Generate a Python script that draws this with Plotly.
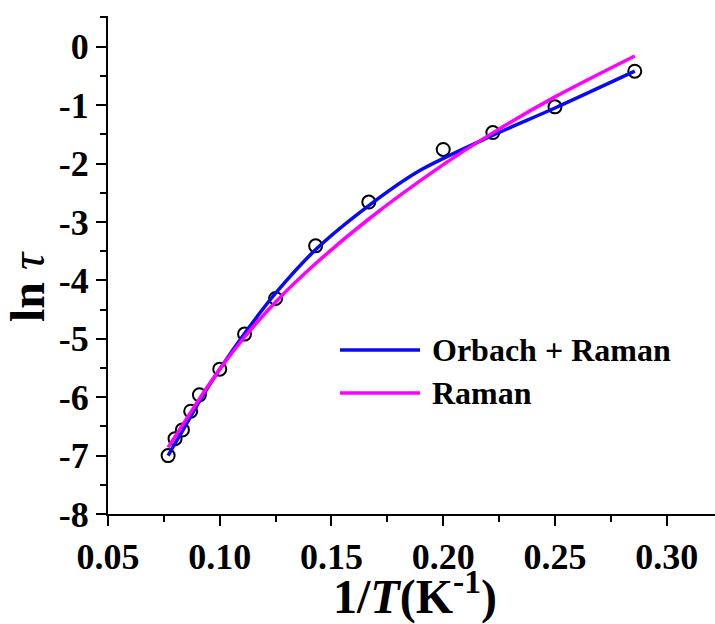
import plotly.graph_objects as go

# Measured relaxation times
inv_T = [0.0769, 0.0800, 0.0833, 0.0870, 0.0909, 0.1000, 0.1111, 0.1250,
         0.1429, 0.1667, 0.2000, 0.2222, 0.2500, 0.2857]
ln_tau = [-7.00, -6.71, -6.56, -6.24, -5.96, -5.52, -4.92, -4.31,
          -3.41, -2.66, -1.76, -1.47, -1.03, -0.42]

# Orbach + Raman fit curve
fit_or_x = [0.0769, 0.0800, 0.0833, 0.0870, 0.0909, 0.1000, 0.1111, 0.1250,
            0.1433, 0.1667, 0.1895, 0.2220, 0.2500, 0.2857]
fit_or_y = [-7.00, -6.79, -6.58, -6.33, -6.07, -5.52, -4.91, -4.22,
            -3.46, -2.72, -2.12, -1.52, -1.05, -0.42]

# Raman-only fit curve
fit_r_x = [0.0769, 0.0833, 0.0909, 0.1000, 0.1111, 0.1250, 0.1433, 0.1667,
           0.2000, 0.2220, 0.2500, 0.2857]
fit_r_y = [-6.86, -6.48, -6.03, -5.52, -4.97, -4.37, -3.70, -2.95,
           -2.02, -1.48, -0.86, -0.16]

x_ticks = [0.05, 0.10, 0.15, 0.20, 0.25, 0.30]
x_ticktext = ["0.05", "0.10", "0.15", "0.20", "0.25", "0.30"]
y_ticks = [0, -1, -2, -3, -4, -5, -6, -7, -8]
y_ticktext = ["0", "-1", "-2", "-3", "-4", "-5", "-6", "-7", "-8"]

legend_labels = ["Orbach + Raman", "Raman"]
colors = ["#0a0af0", "#ff00ff"]

W, H = 715, 624
L, R, T, B = 108, 0, 16, 110
FONT = "Liberation Serif"


def px_x(p):
    return (p - L) / (W - L - R)


def px_y(p):
    return (H - B - p) / (H - T - B)


fig = go.Figure()
fig.add_trace(go.Scatter(
    x=inv_T, y=ln_tau, mode="markers",
    marker=dict(symbol="circle-open", size=13, color="black",
                line=dict(width=2, color="black")),
    showlegend=False))
fig.add_trace(go.Scatter(
    x=fit_or_x, y=fit_or_y, mode="lines", line_shape="spline",
    line=dict(color=colors[0], width=3.5, smoothing=0.8), showlegend=False))
fig.add_trace(go.Scatter(
    x=fit_r_x, y=fit_r_y, mode="lines", line_shape="spline",
    line=dict(color=colors[1], width=3.5, smoothing=0.8), showlegend=False))

axis_common = dict(
    showline=True, linecolor="black", linewidth=2,
    ticks="outside", ticklen=10, tickwidth=2, tickcolor="black",
    showgrid=False, zeroline=False, mirror=False,
    tickfont=dict(family=FONT, size=36, color="black", weight="bold"),
)

fig.update_xaxes(range=[0.05, 0.3216], tickmode="array",
                 tickvals=x_ticks, ticktext=x_ticktext,
                 minor=dict(ticks="outside", ticklen=6, tickwidth=1.5,
                            tickcolor="black", dtick=0.025, tick0=0.05),
                 **axis_common)
fig.update_yaxes(range=[-8, 0.525], tickmode="array",
                 tickvals=y_ticks, ticktext=y_ticktext,
                 minor=dict(ticks="outside", ticklen=6, tickwidth=1.5,
                            tickcolor="black", dtick=0.5, tick0=0),
                 **axis_common)

annotations = [
    dict(text="<b>ln</b> <i>τ</i>", textangle=-90,
         x=px_x(27), y=px_y(287), xref="paper", yref="paper",
         xanchor="center", yanchor="middle", showarrow=False,
         font=dict(family=FONT, size=48, color="black")),
    dict(text="<b>1/<i>T</i>(K<sup>-1</sup>)</b>",
         x=px_x(415), y=px_y(593), xref="paper", yref="paper",
         xanchor="center", yanchor="middle", showarrow=False,
         font=dict(family=FONT, size=48, color="black")),
]

shapes = []
legend_rows = [350, 393]
for label, color, row in zip(legend_labels, colors, legend_rows):
    shapes.append(dict(type="line", xref="paper", yref="paper",
                       x0=px_x(340), x1=px_x(420), y0=px_y(row), y1=px_y(row),
                       line=dict(color=color, width=3.5)))
    annotations.append(dict(text="<b>" + label + "</b>",
                            x=px_x(430), y=px_y(row), xref="paper", yref="paper",
                            xanchor="left", yanchor="middle", showarrow=False,
                            font=dict(family=FONT, size=32, color="black")))

fig.update_layout(
    width=W, height=H,
    margin=dict(l=L, r=R, t=T, b=B),
    paper_bgcolor="white", plot_bgcolor="white",
    annotations=annotations, shapes=shapes,
)

fig.write_html("out.html")
